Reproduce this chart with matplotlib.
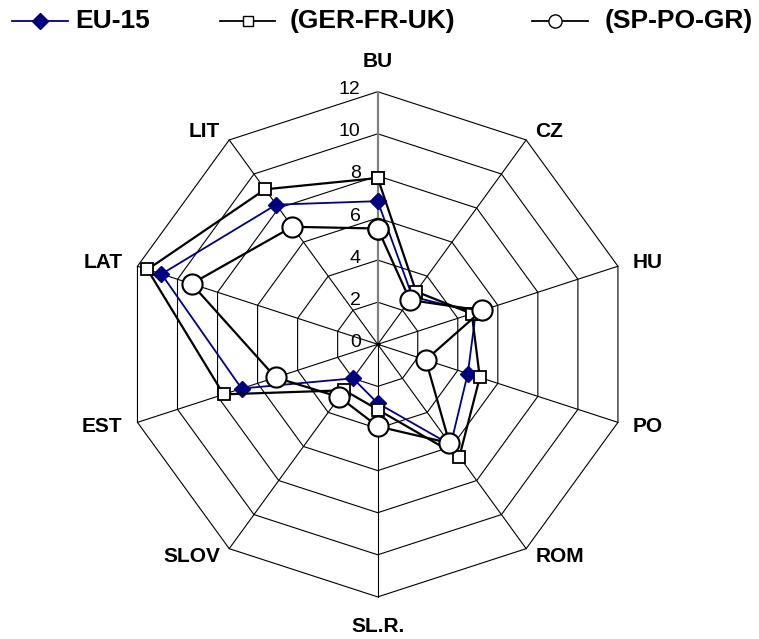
import numpy as np
import matplotlib
matplotlib.use("Agg")
import matplotlib.pyplot as plt

plt.rcParams['font.family'] = ['Liberation Sans', 'DejaVu Sans']

categories = ['BU', 'CZ', 'HU', 'PO', 'ROM', 'SL.R.', 'SLOV', 'EST', 'LAT', 'LIT']
eu15 = [6.8, 2.8, 4.9, 4.5, 5.9, 2.8, 2.0, 6.8, 10.8, 8.2]
ger_fr_uk = [7.9, 3.1, 4.7, 5.1, 6.6, 3.1, 2.7, 7.7, 11.5, 9.1]
sp_po_gr = [5.5, 2.6, 5.2, 2.4, 5.8, 3.9, 3.1, 5.1, 9.3, 6.9]
rticks = [0, 2, 4, 6, 8, 10, 12]
series_names = ['EU-15', '(GER-FR-UK)', '(SP-PO-GR)']

W, H = 759, 639
cx, cy = 377.7, 344.3   # centre in pixels
scale = 21.05           # pixels per unit
rmax = 12

n = len(categories)
ang = np.deg2rad(90 - 360.0 / n * np.arange(n))


def xy(vals):
    v = np.asarray(vals, dtype=float)
    x = v * np.cos(ang)
    y = v * np.sin(ang)
    return np.append(x, x[0]), np.append(y, y[0])


fig = plt.figure(figsize=(W / 100, H / 100), dpi=100)
ax = fig.add_axes([0, 0, 1, 1])
ax.set_xlim(-cx / scale, (W - cx) / scale)
ax.set_ylim(-(H - cy) / scale, cy / scale)
ax.axis('off')

# polygon grid
for r in rticks[1:]:
    gx, gy = xy([r] * n)
    ax.plot(gx, gy, color='black', lw=0.8, zorder=1)
for i in range(1, n):
    ax.plot([0, rmax * np.cos(ang[i])], [0, rmax * np.sin(ang[i])],
            color='black', lw=0.8, zorder=1)
# value axis
ax.plot([0, 0], [0, rmax], color='#808080', lw=1.6, zorder=1)
ax.plot([0], [0], 'o', color='black', ms=2, zorder=1)

for r in rticks:
    ax.annotate(str(r), xy=(0, r), xytext=(-17, 2), textcoords='offset pixels',
                ha='right', va='center', fontsize=14,
                family=['Liberation Sans Narrow', 'Liberation Sans'])

# category labels
for i, c in enumerate(categories):
    ca, sa = np.cos(ang[i]), np.sin(ang[i])
    vx, vy = rmax * ca, rmax * sa
    if abs(ca) < 1e-6:
        off = (0, 30 if sa > 0 else -30)
        ha = 'center'
    else:
        ha = 'left' if ca > 0 else 'right'
        diag = abs(sa) > 0.7
        dx = 9 if diag else 15
        dy = (8 if diag else 4) * np.sign(sa)
        off = (dx * np.sign(ca), dy)
    ax.annotate(c, xy=(vx, vy), xytext=off, textcoords='offset pixels',
                ha=ha, va='center', fontsize=15, fontweight='bold')

# series
styles = [
    dict(color='#000080', lw=1.3, marker='D', ms=8, mfc='#000080', mec='#000080'),
    dict(color='black', lw=1.6, marker='s', ms=9, mfc='white', mec='black', mew=1.3),
    dict(color='black', lw=1.6, marker='o', ms=14.5, mfc='white', mec='black', mew=1.5),
]
for k, vals in enumerate([eu15, ger_fr_uk, sp_po_gr]):
    x, y = xy(vals)
    ax.plot(x, y, zorder=3 + k, **styles[k])

# legend drawn in pixel space across the top
lg = fig.add_axes([0, 0, 1, 1], facecolor='none')
lg.set_xlim(0, W)
lg.set_ylim(H, 0)
lg.axis('off')
leg_line = [(12, 68), (220, 275), (532, 588)]
leg_mark = [40, 248, 555]
leg_text = [75, 290, 605]
leg_style = [
    dict(color='#000080', lw=1.3, marker='D', ms=8, mfc='#000080', mec='#000080'),
    dict(color='black', lw=1.3, marker='s', ms=7.5, mfc='white', mec='black', mew=1.0),
    dict(color='black', lw=1.3, marker='o', ms=9.5, mfc='white', mec='black', mew=1.0),
]
ly = 21
for k, name in enumerate(series_names):
    st = dict(leg_style[k])
    mk = {key: st.pop(key) for key in ['marker', 'ms', 'mfc', 'mec', 'mew'] if key in st}
    lg.plot(leg_line[k], [ly, ly], color=st['color'], lw=st['lw'])
    lg.plot([leg_mark[k]], [ly], linestyle='none', color=st['color'], **mk)
    lg.text(leg_text[k], ly, name, ha='left', va='center', fontsize=19,
            fontweight='bold')

fig.savefig('out.png', dpi=100)
